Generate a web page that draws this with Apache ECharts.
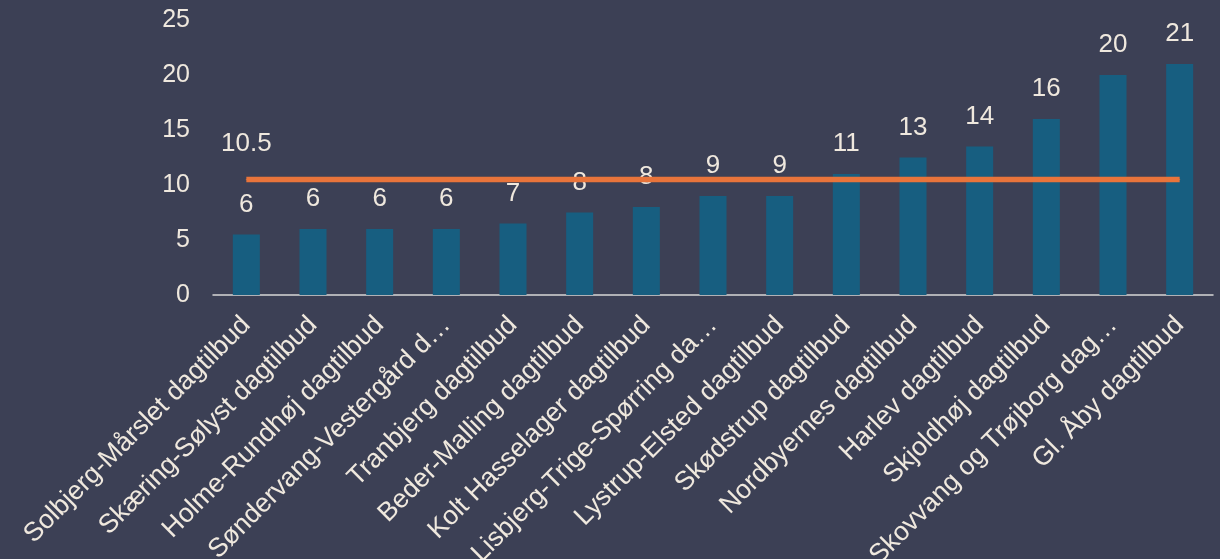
<!DOCTYPE html>
<html>
<head>
<meta charset="utf-8">
<script src="https://cdn.jsdelivr.net/npm/echarts@6/dist/echarts.min.js"></script>
<style>
html,body{margin:0;padding:0;background:#3c4055;}
#c{width:1220px;height:559px;}
</style>
</head>
<body>
<div id="c"></div>
<script>
const categories = [
  "Solbjerg-Mårslet dagtilbud",
  "Skæring-Sølyst dagtilbud",
  "Holme-Rundhøj dagtilbud",
  "Søndervang-Vestergård d…",
  "Tranbjerg dagtilbud",
  "Beder-Malling dagtilbud",
  "Kolt Hasselager dagtilbud",
  "Lisbjerg-Trige-Spørring da…",
  "Lystrup-Elsted dagtilbud",
  "Skødstrup dagtilbud",
  "Nordbyernes dagtilbud",
  "Harlev dagtilbud",
  "Skjoldhøj dagtilbud",
  "Skovvang og Trøjborg dag…",
  "Gl. Åby dagtilbud"
];
const barValues = [5.5, 6, 6, 6, 6.5, 7.5, 8, 9, 9, 11, 12.5, 13.5, 16, 20, 21];
const averageValue = 10.5;
const averageLine = categories.map(() => averageValue);
const yTicks = [0, 5, 10, 15, 20, 25];

const textColor = '#efe8de';
const font = 'Liberation Sans, Arial, sans-serif';
const chart = echarts.init(document.getElementById('c'));
chart.setOption({
  backgroundColor: '#3c4055',
  animation: false,
  grid: {left: 213, right: 7, top: 20, bottom: 264, containLabel: false, outerBoundsMode: 'none'},
  xAxis: {
    type: 'category',
    data: categories,
    axisLine: {lineStyle: {color: '#d6d6d6', width: 1.5}},
    axisTick: {show: false},
    axisLabel: {rotate: 45, interval: 0, color: textColor, fontSize: 26.5, fontFamily: font, margin: 26}
  },
  yAxis: {
    type: 'value',
    min: yTicks[0], max: yTicks[yTicks.length - 1], interval: 5,
    splitLine: {show: false},
    axisLine: {show: false},
    axisTick: {show: false},
    axisLabel: {color: textColor, fontSize: 25, fontFamily: font, margin: 23}
  },
  series: [
    {
      type: 'bar',
      data: barValues,
      barWidth: 27,
      itemStyle: {color: '#175e80'},
      label: {
        show: true, position: 'top', distance: 17,
        color: textColor, fontSize: 26, fontFamily: font,
        formatter: p => String(Math.round(p.value))
      },
      z: 2
    },
    {
      type: 'line',
      data: averageLine.map((v, i) => i === 0 ? {value: v, label: {show: true}} : v),
      symbol: 'circle',
      symbolSize: 1,
      showSymbol: true,
      lineStyle: {color: '#e8743b', width: 5.5},
      itemStyle: {color: '#e8743b'},
      label: {
        show: false, position: 'top', distance: 22,
        color: textColor, fontSize: 26, fontFamily: font
      },
      labelLayout: {hideOverlap: false},
      z: 3
    }
  ]
});
</script>
</body>
</html>
